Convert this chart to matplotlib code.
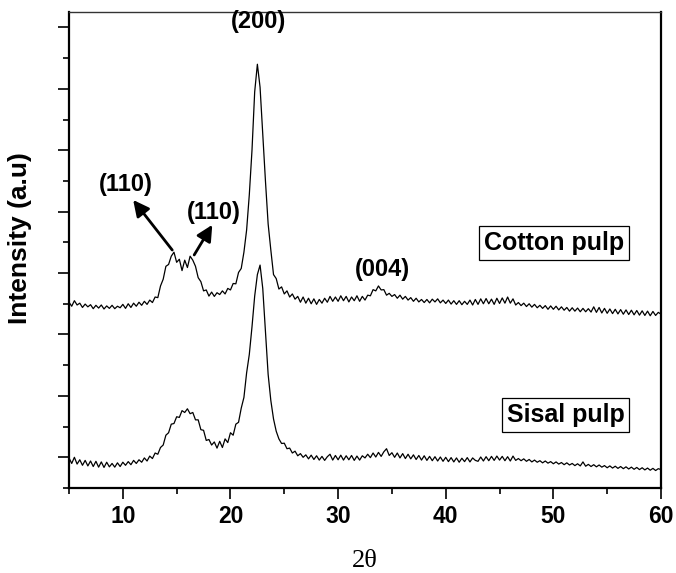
import numpy as np
import matplotlib
matplotlib.use("Agg")
import matplotlib.pyplot as plt
from matplotlib.ticker import MultipleLocator

plt.rcParams['font.family'] = ['Liberation Sans', 'DejaVu Sans']

# 2theta grid (degrees), 0.25 deg steps from 5 to 60
two_theta = np.arange(5.0, 60.001, 0.25)

# Cotton pulp intensities (a.u., offset trace), 4 values per degree
cotton = [
    5.05, 4.92, 5.10, 4.96,   # 5
    5.02, 4.88, 4.99, 4.90,   # 6
    4.97, 4.84, 4.95, 4.86,   # 7
    4.96, 4.83, 4.93, 4.85,   # 8
    4.95, 4.84, 4.92, 4.87,   # 9
    4.98, 4.85, 5.00, 4.88,   # 10
    5.02, 4.92, 5.05, 4.95,   # 11
    5.08, 4.98, 5.12, 5.04,   # 12
    5.22, 5.20, 5.58, 5.80,   # 13
    6.22, 6.28, 6.55, 6.68,   # 14
    6.35, 6.45, 6.08, 6.42,   # 15
    6.18, 6.55, 6.42, 6.22,   # 16
    5.85, 5.72, 5.42, 5.45,   # 17
    5.25, 5.38, 5.24, 5.36,   # 18
    5.30, 5.42, 5.32, 5.50,   # 19
    5.45, 5.66, 5.65, 6.02,   # 20
    6.15, 6.68, 7.40, 8.55,   # 21
    10.00, 11.90, 12.80, 12.05,  # 22
    10.50, 9.00, 7.60, 6.75,  # 23
    5.95, 5.82, 5.48, 5.55,   # 24
    5.32, 5.42, 5.22, 5.32,   # 25
    5.15, 5.24, 5.05, 5.22,   # 26
    5.02, 5.18, 5.00, 5.16,   # 27
    4.98, 5.14, 5.02, 5.18,   # 28
    5.05, 5.24, 5.08, 5.22,   # 29
    5.08, 5.26, 5.10, 5.24,   # 30
    5.06, 5.22, 5.10, 5.26,   # 31
    5.08, 5.24, 5.12, 5.28,   # 32
    5.26, 5.46, 5.42, 5.58,   # 33
    5.45, 5.46, 5.28, 5.34,   # 34
    5.24, 5.30, 5.18, 5.28,   # 35
    5.15, 5.24, 5.12, 5.20,   # 36
    5.08, 5.18, 5.06, 5.14,   # 37
    5.04, 5.14, 5.03, 5.15,   # 38
    5.06, 5.16, 5.03, 5.12,   # 39
    5.01, 5.12, 4.99, 5.10,   # 40
    4.98, 5.10, 4.97, 5.08,   # 41
    4.98, 5.12, 4.96, 5.14,   # 42
    4.98, 5.16, 5.00, 5.17,   # 43
    5.00, 5.15, 4.98, 5.18,   # 44
    5.01, 5.19, 5.02, 5.22,   # 45
    5.02, 5.16, 4.96, 5.04,   # 46
    4.94, 5.02, 4.91, 5.00,   # 47
    4.89, 4.98, 4.87, 4.95,   # 48
    4.85, 4.94, 4.82, 4.93,   # 49
    4.82, 4.92, 4.80, 4.90,   # 50
    4.79, 4.88, 4.76, 4.87,   # 51
    4.76, 4.86, 4.74, 4.85,   # 52
    4.74, 4.84, 4.73, 4.90,   # 53
    4.72, 4.88, 4.70, 4.85,   # 54
    4.69, 4.83, 4.68, 4.82,   # 55
    4.67, 4.81, 4.66, 4.80,   # 56
    4.65, 4.79, 4.64, 4.78,   # 57
    4.63, 4.77, 4.62, 4.76,   # 58
    4.61, 4.75, 4.62, 4.72,   # 59
    4.66,                     # 60
]

# Sisal pulp intensities (a.u.), 4 values per degree
sisal = [
    -0.02, -0.20, 0.00, -0.22,   # 5
    -0.08, -0.26, -0.10, -0.28,  # 6
    -0.12, -0.30, -0.13, -0.32,  # 7
    -0.15, -0.33, -0.16, -0.31,  # 8
    -0.20, -0.32, -0.18, -0.30,  # 9
    -0.16, -0.26, -0.14, -0.24,  # 10
    -0.10, -0.20, -0.08, -0.16,  # 11
    -0.02, -0.12, 0.04, -0.04,   # 12
    0.14, 0.10, 0.32, 0.40,      # 13
    0.72, 0.80, 1.08, 1.10,      # 14
    1.32, 1.30, 1.52, 1.46,      # 15
    1.58, 1.42, 1.46, 1.22,      # 16
    1.22, 0.90, 0.88, 0.55,      # 17
    0.58, 0.40, 0.50, 0.30,      # 18
    0.52, 0.32, 0.60, 0.48,      # 19
    0.80, 0.72, 1.08, 1.14,      # 20
    1.60, 1.95, 2.75, 3.35,      # 21
    4.25, 5.25, 5.95, 6.26,      # 22
    5.50, 4.10, 2.70, 1.85,      # 23
    1.25, 0.85, 0.60, 0.45,      # 24
    0.46, 0.28, 0.30, 0.14,      # 25
    0.20, 0.05, 0.12, 0.00,      # 26
    0.08, -0.05, 0.07, -0.07,    # 27
    0.05, -0.09, 0.03, -0.10,    # 28
    0.02, 0.10, -0.09, 0.06,     # 29
    -0.08, 0.07, -0.09, 0.05,    # 30
    -0.08, 0.06, -0.10, 0.04,    # 31
    -0.09, 0.05, -0.02, 0.10,    # 32
    -0.01, 0.14, 0.01, 0.16,     # 33
    0.03, 0.18, 0.28, 0.06,      # 34
    0.15, 0.00, 0.14, -0.02,     # 35
    0.12, -0.04, 0.10, -0.05,    # 36
    0.08, -0.07, 0.06, -0.09,    # 37
    0.05, -0.10, 0.03, -0.11,    # 38
    0.02, -0.12, 0.01, -0.13,    # 39
    0.00, -0.14, -0.01, -0.15,   # 40
    -0.02, -0.16, -0.03, -0.14,  # 41
    -0.01, -0.15, -0.02, -0.10,  # 42
    -0.13, 0.01, -0.12, 0.02,    # 43
    -0.11, 0.03, -0.10, 0.04,    # 44
    -0.09, 0.03, -0.11, 0.02,    # 45
    -0.12, 0.04, -0.10, -0.04,   # 46
    -0.11, -0.05, -0.13, -0.07,  # 47
    -0.15, -0.09, -0.16, -0.11,  # 48
    -0.18, -0.12, -0.19, -0.14,  # 49
    -0.21, -0.15, -0.22, -0.17,  # 50
    -0.24, -0.18, -0.25, -0.20,  # 51
    -0.27, -0.21, -0.28, -0.15,  # 52
    -0.29, -0.23, -0.30, -0.24,  # 53
    -0.31, -0.25, -0.32, -0.27,  # 54
    -0.34, -0.28, -0.35, -0.29,  # 55
    -0.36, -0.30, -0.37, -0.31,  # 56
    -0.38, -0.32, -0.39, -0.33,  # 57
    -0.40, -0.34, -0.41, -0.35,  # 58
    -0.42, -0.36, -0.43, -0.37,  # 59
    -0.40,                       # 60
]

peak_labels = ["(200)", "(110)", "(110)", "(004)"]
sample_labels = ["Cotton pulp", "Sisal pulp"]
x_ticks = [10, 20, 30, 40, 50, 60]

fig = plt.figure(figsize=(6.76, 5.73), dpi=100)
ax = fig.add_axes([0.1021, 0.1483, 0.8757, 0.8307])

ax.plot(two_theta, cotton, color='black', lw=0.9)
ax.plot(two_theta, sisal, color='black', lw=0.9)

ax.set_xlim(5, 60)
ax.set_ylim(-1, 14.5)

ax.xaxis.set_minor_locator(MultipleLocator(5))
ax.yaxis.set_major_locator(MultipleLocator(2))
ax.yaxis.set_minor_locator(MultipleLocator(1))
ax.set_xticks(x_ticks)
ax.set_xticklabels([str(t) for t in x_ticks], fontsize=16.5, fontweight='bold')
ax.set_yticklabels([])
ax.tick_params(axis='both', which='major', direction='out', length=8, width=1.2)
ax.tick_params(axis='both', which='minor', direction='out', length=4.5, width=1.2)
ax.tick_params(axis='x', pad=4)

for s in ['left', 'bottom', 'right']:
    ax.spines[s].set_linewidth(1.6)
ax.spines['top'].set_linewidth(1.0)
ax.spines['top'].set_color('#333333')

ax.set_ylabel("Intensity (a.u)", fontsize=19, fontweight='bold')
ax.yaxis.set_label_coords(-0.062, 0.526)
fig.text(0.539, 0.002, "2θ", fontsize=19, family=['Liberation Serif', 'DejaVu Serif'],
         ha='center', va='bottom')

fs = 17
ax.text(22.59, 14.18, peak_labels[0], fontsize=fs, fontweight='bold', ha='center', va='center')
ax.text(10.30, 8.90, peak_labels[1], fontsize=fs, fontweight='bold', ha='center', va='center')
ax.text(18.49, 7.96, peak_labels[2], fontsize=fs, fontweight='bold', ha='center', va='center')
ax.text(34.13, 6.10, peak_labels[3], fontsize=fs, fontweight='bold', ha='center', va='center')

arrow_kw = dict(arrowstyle='-|>', color='black', lw=2.0, mutation_scale=24,
                shrinkA=0, shrinkB=0)
ax.annotate("", xy=(10.96, 8.38), xytext=(14.59, 6.75), arrowprops=arrow_kw)
ax.annotate("", xy=(18.31, 7.57), xytext=(16.63, 6.59), arrowprops=arrow_kw)

box = dict(boxstyle='square,pad=0.2', facecolor='white', edgecolor='black', lw=0.9)
ax.text(56.6, 6.98, sample_labels[0], fontsize=18, fontweight='bold', ha='right', va='center', bbox=box)
ax.text(56.6, 1.38, sample_labels[1], fontsize=18, fontweight='bold', ha='right', va='center', bbox=box)

fig.savefig("out.png", dpi=100)
